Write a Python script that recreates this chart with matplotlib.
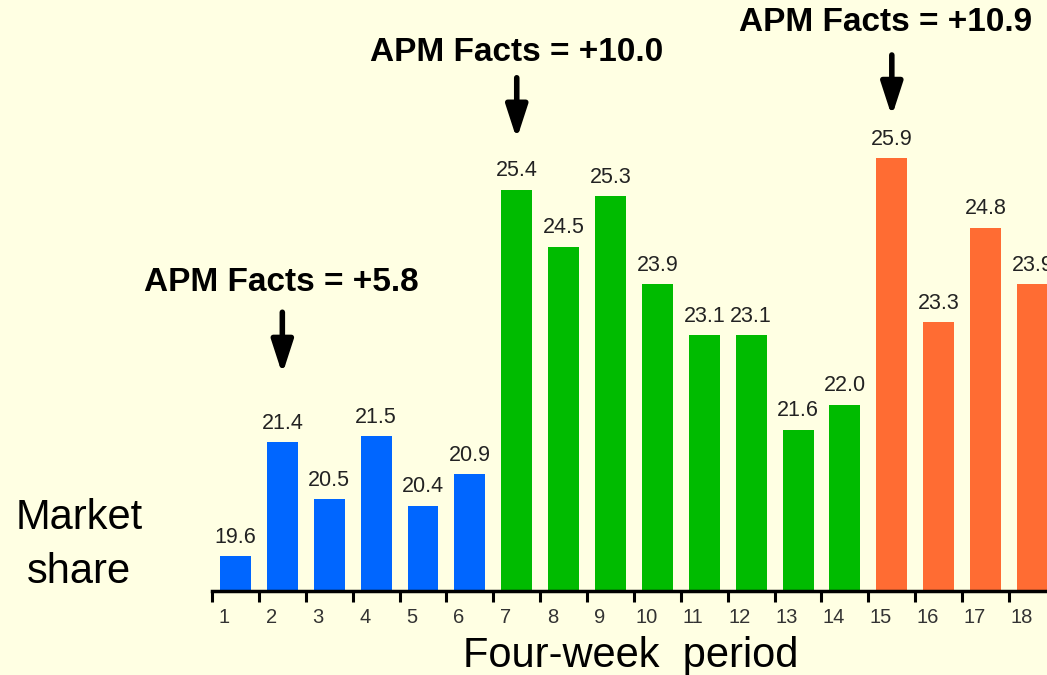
import matplotlib.pyplot as plt

periods = list(range(1, 19))
share = [19.6, 21.4, 20.5, 21.5, 20.4, 20.9,
         25.4, 24.5, 25.3, 23.9, 23.1, 23.1, 21.6, 22.0,
         25.9, 23.3, 24.8, 23.9]
colors = ['#0066ff'] * 6 + ['#00bb00'] * 8 + ['#ff6c33'] * 4

notes = ['APM Facts = +5.8', 'APM Facts = +10.0', 'APM Facts = +10.9']
note_period = [2, 7, 15]

bg = '#ffffe3'
plt.rcParams['font.family'] = ['Liberation Sans', 'DejaVu Sans']

fig = plt.figure(figsize=(10.47, 6.75), dpi=100, facecolor=bg)
ax = fig.add_axes([212 / 1047, 84 / 675, 835 / 1047, 591 / 675])
ax.set_facecolor(bg)

ax.bar(periods, share, width=0.66, color=colors)

for p, v in zip(periods, share):
    ax.annotate(f'{v:.1f}', (p, v), xytext=(0, 6), textcoords='offset points',
                ha='center', va='bottom', fontsize=15.5, color='#222222')

# arrows and notes
note_y = [23.93, 27.57, 28.05]
arrow_top = [23.46, 27.17, 27.53]
arrow_bot = [22.48, 26.2, 26.56]
note_dx = [-0.03, 0.0, -0.13]
for txt, p, ty, a0, a1, dx in zip(notes, note_period, note_y, arrow_top, arrow_bot, note_dx):
    ax.text(p + dx, ty, txt, ha='center', va='center', fontsize=24,
            fontweight='bold', color='black')
    ax.annotate('', xy=(p, a1), xytext=(p, a0),
                arrowprops=dict(arrowstyle='-|>,head_length=2.0,head_width=0.65',
                                mutation_scale=10, color='black', lw=4,
                                shrinkA=0, shrinkB=0))

for s in ['top', 'right', 'left']:
    ax.spines[s].set_visible(False)
ax.spines['bottom'].set_linewidth(2.5)
ax.set_yticks([])

ax.set_xticks([p - 0.5 for p in periods])
ax.set_xticklabels([])
ax.tick_params(axis='x', which='major', length=8, width=2.2, direction='out')
ax.set_xticks([p - 0.24 for p in periods], minor=True)
ax.set_xticklabels([str(p) for p in periods], minor=True)
ax.tick_params(axis='x', which='minor', length=0, pad=12, labelsize=14.5,
               labelcolor='#333333')

ax.set_xlim(0.5, 18.31)
ax.set_ylim(19.05, 28.4)

fig.text(631 / 1047, 1 - 656 / 675, 'Four-week  period', ha='center', va='center',
         fontsize=30, color='black')
fig.text(79 / 1047, 1 - 545 / 675, 'Market\nshare', ha='center', va='center',
         fontsize=30, color='black', linespacing=1.45)

fig.savefig('out.png', dpi=100, facecolor=bg)
